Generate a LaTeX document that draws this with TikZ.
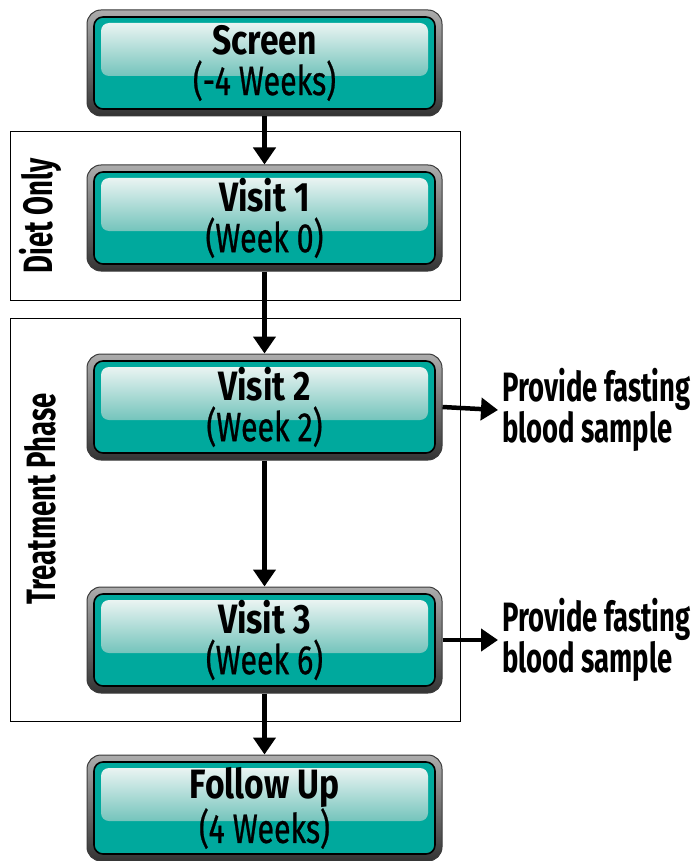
\documentclass[tikz,border=0pt]{standalone}
\usepackage{fontspec}
\newfontfamily\dinfont[FakeStretch=0.82]{Fira Sans}
\newfontfamily\dinsub[FakeStretch=0.74,FakeBold=0.6]{Fira Sans}
\newfontfamily\dinnarrow[FakeStretch=0.67]{Fira Sans}
\usetikzlibrary{arrows.meta}
\definecolor{tealfill}{HTML}{00A99D}
\definecolor{glosstop}{HTML}{EAF4F2}
\definecolor{glossbot}{HTML}{74C4BC}
\definecolor{frameline}{HTML}{3A3A3A}
\newcommand{\stagetext}[2]{{\dinfont\bfseries #1}\\{\dinsub #2}}
\tikzset{
  stage/.style={
    minimum width=355pt, minimum height=106pt, inner sep=0pt,
    rounded corners=14pt, draw=frameline, line width=1pt,
    top color=gray!65, middle color=white!85!gray, bottom color=black!80,
    align=center, font=\fontsize{41}{41}\selectfont,
    path picture={
      \fill[tealfill, draw=black, line width=1.6pt, rounded corners=9pt]
        ([shift={(7pt,-7pt)}]path picture bounding box.north west)
        rectangle ([shift={(-7pt,7pt)}]path picture bounding box.south east);
      \shade[rounded corners=8pt, top color=glosstop, bottom color=glossbot]
        ([shift={(14pt,-13pt)}]path picture bounding box.north west)
        rectangle ([shift={(-14pt,-66pt)}]path picture bounding box.north east);
    }
  },
  phase/.style={draw=black, line width=0.8pt},
  phaselabel/.style={rotate=90, font=\dinnarrow\bfseries\fontsize{41}{40}\selectfont, inner sep=0pt},
  note/.style={anchor=west, align=left, inner sep=0pt,
    font=\dinnarrow\bfseries\fontsize{41}{34}\selectfont},
  flow/.style={line width=4.5pt, -{Triangle[width=22pt,length=17pt]}}
}
\begin{document}
\begin{tikzpicture}[x=1pt,y=1pt]
  \useasboundingbox (0,0) rectangle (696,-861);

  % phase frames
  \draw[phase] (10,-131) rectangle (460,-300);
  \draw[phase] (10,-318) rectangle (460,-721);
  \node[phaselabel] (dietlbl) at (40,-216) {Diet Only};
  \node[phaselabel] (treatlbl) at (40,-499) {Treatment Phase};

  % visit boxes
  \node[stage] (screen) at (264.5,-63)  {\stagetext{Screen}{(-4 Weeks)}};
  \node[stage] (v1)     at (264.5,-218) {\stagetext{Visit 1}{(Week 0)}};
  \node[stage] (v2)     at (264.5,-407) {\stagetext{Visit 2}{(Week 2)}};
  \node[stage] (v3)     at (264.5,-640) {\stagetext{Visit 3}{(Week 6)}};
  \node[stage] (follow) at (264.5,-808) {\stagetext{Follow Up}{(4 Weeks)}};

  % sampling notes
  \node[note] (s2) at (502,-410) {Provide fasting\\blood sample};
  \node[note] (s3) at (502,-640) {Provide fasting\\blood sample};

  % connectors
  \draw[flow] (screen.south) -- (v1.north);
  \draw[flow] (v1.south) -- (v2.north);
  \draw[flow] (v2.south) -- (v3.north);
  \draw[flow] (v3.south) -- (follow.north);
  \draw[flow] (v2.east) -- ([xshift=-4pt]s2.west);
  \draw[flow] (v3.east) -- ([xshift=-4pt]s3.west);
\end{tikzpicture}
\end{document}
